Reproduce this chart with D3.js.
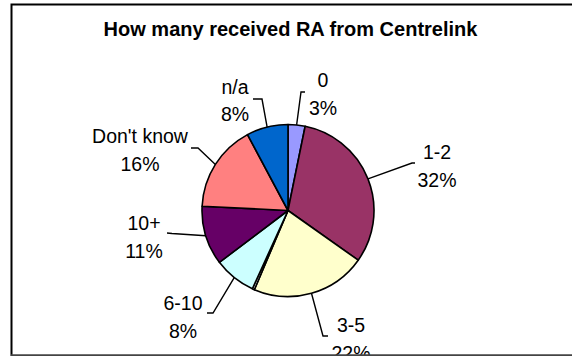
<!DOCTYPE html>
<html>
<head>
<meta charset="utf-8">
<script src="https://cdn.jsdelivr.net/npm/d3@7/dist/d3.min.js"></script>
<style>
  html, body { margin: 0; padding: 0; background: #fff; }
  svg { display: block; }
  text { font-family: Arial, "Liberation Sans", sans-serif; fill: #000; }
</style>
</head>
<body>
<svg id="chart" width="572" height="356"></svg>
<script>
// Number of Rent Assistance payments received from Centrelink (share of respondents, %)
const categories = ["0", "1-2", "3-5", "other", "6-10", "10+", "Don't know", "n/a"];
const shares     = [3.2, 31.6, 21.6, 0.4, 7.9, 11.1, 16.4, 7.8];
const colors     = ["#9999FF", "#993366", "#FFFFCC", "#FFFFFF", "#CCFFFF", "#660066", "#FF8080", "#0066CC"];
const title = "How many received RA from Centrelink";

// Label placement relative to the pie centre: text anchor, leader elbow and tick end
const labelLayout = {
  "0":          { tx: 35,   ty: -123.5, elbow: [13, -118.5],  tick: [17, -118.5] },
  "1-2":        { tx: 149,  ty: -51.5,  elbow: [124, -47.5],  tick: [127, -47.5] },
  "3-5":        { tx: 63,   ty: 121.5,  elbow: [35, 125.5],   tick: [40, 125.5] },
  "6-10":       { tx: -105, ty: 99.5,   elbow: [-75, 102.5],  tick: [-81, 102.5] },
  "10+":        { tx: -144, ty: 19.5,   elbow: [-116, 23],    tick: [-121, 22.5] },
  "Don't know": { tx: -148, ty: -67.5,  elbow: [-90, -62.5],  tick: [-97, -62.5] },
  "n/a":        { tx: -53,  ty: -117,   elbow: [-26, -111.5], tick: [-35, -111.5] }
};

const W = 572, H = 356;
const cx = 288, cy = 210.5, radius = 86;
const lineGap = 27.5;

const svg = d3.select("#chart");
svg.append("rect").attr("width", W).attr("height", H).attr("fill", "#fff");

const data = categories.map((c, i) => ({ cat: c, value: shares[i], color: colors[i] }));

const pie = d3.pie().value(d => d.value).sort(null).startAngle(0).endAngle(2 * Math.PI);
const arc = d3.arc().innerRadius(0).outerRadius(radius);
const arcs = pie(data);

// Title
svg.append("text")
  .attr("x", 290.5).attr("y", 36)
  .attr("text-anchor", "middle")
  .attr("font-size", 20).attr("font-weight", "bold")
  .text(title);

const g = svg.append("g").attr("transform", `translate(${cx},${cy})`);

// Slices
g.selectAll("path.slice")
  .data(arcs)
  .enter().append("path")
  .attr("class", "slice")
  .attr("d", arc)
  .attr("fill", d => d.data.color)
  .attr("stroke", "#000")
  .attr("stroke-width", 1.6)
  .attr("stroke-linejoin", "round");

// Leader lines and labels
arcs.forEach(a => {
  const lay = labelLayout[a.data.cat];
  const pct = Math.round(a.data.value);
  if (!lay || pct === 0) return;
  const mid = (a.startAngle + a.endAngle) / 2;
  const start = [radius * Math.sin(mid), -radius * Math.cos(mid)];
  g.append("path")
    .attr("d", d3.line()([start, lay.elbow, lay.tick]))
    .attr("fill", "none")
    .attr("stroke", "#000")
    .attr("stroke-width", 1.4);
  const t = g.append("text")
    .attr("text-anchor", "middle")
    .attr("font-size", 19.5);
  t.append("tspan").attr("x", lay.tx).attr("y", lay.ty).text(a.data.cat);
  t.append("tspan").attr("x", lay.tx).attr("y", lay.ty + lineGap).text(pct + "%");
});

// Chart frame (extends beyond the right edge of the view)
svg.append("path")
  .attr("d", `M11.5,356 V4.5 H${W + 5}`)
  .attr("fill", "none").attr("stroke", "#000").attr("stroke-width", 2);
svg.append("line")
  .attr("x1", 11).attr("x2", W).attr("y1", 355.2).attr("y2", 355.2)
  .attr("stroke", "#444").attr("stroke-width", 2);
</script>
</body>
</html>
